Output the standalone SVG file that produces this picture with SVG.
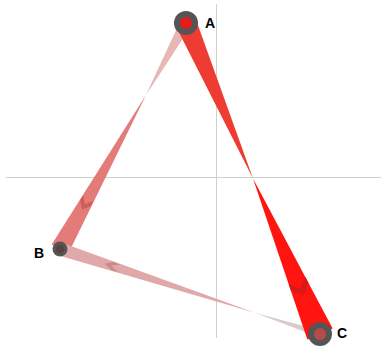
<svg xmlns="http://www.w3.org/2000/svg" width="386" height="356" viewBox="0 0 386 356">
<style>
.axis{stroke:#d0d0d0;stroke-width:1;fill:none}
.lbl{font-family:"Liberation Sans",Arial,sans-serif;font-weight:bold;font-size:14px;fill:#000}
.ring{fill:#555555}
</style>
<rect width="386" height="356" fill="#ffffff"/>
<g id="axes">
<line class="axis" x1="6" y1="177.5" x2="381" y2="177.5"/>
<line class="axis" x1="216.5" y1="4" x2="216.5" y2="338"/>
</g>
<g id="connectors">
<polygon points="191.24,25.92 180.76,20.08 146,95" fill="#e8b6b4"/>
<polygon points="68.3,253.6 51.7,244.4 146,95" fill="#e37c79"/>
<polygon points="90.69,206.23 82.0,209.4 80.11,200.33 83.34,195.26 84.92,204.16 93.32,200.84" fill="#cc5e5a"/>
<polygon points="58.0,255.2 62.0,242.8 255,312.75" fill="#e0a8a8"/>
<polygon points="318.91,337.33 321.09,330.67 255,312.75" fill="#dccaca"/>
<polygon points="111.04,270.09 104.74,263.61 113.66,262.11 120.25,264.48 111.4,265.79 117.77,272.08" fill="#cc8a8a"/>
<polygon points="195.64,18.84 176.36,27.16 253,178.5" fill="#ee3c32"/>
<polygon points="332.67,328.54 307.33,339.46 253,178.5" fill="#ff1410"/>
<polygon points="308.56,283.01 303.29,295.09 290.90,290.63 288.65,283.98 300.52,288.66 305.27,276.82" fill="#d41a1a"/>
</g>
<g id="node-A">
<circle class="ring" cx="186" cy="23" r="12"/>
<circle cx="186" cy="23" r="6" fill="#e51c1c"/>
<text class="lbl" x="205" y="28">A</text>
</g>
<g id="node-B">
<circle class="ring" cx="60" cy="249" r="7.5"/>
<circle cx="60" cy="249" r="4" fill="#5a4242"/>
<text class="lbl" x="34" y="258">B</text>
</g>
<g id="node-C">
<circle class="ring" cx="320" cy="334" r="12"/>
<circle cx="320" cy="334" r="6" fill="#b44c4c"/>
<text class="lbl" x="337" y="338">C</text>
</g>
</svg>
